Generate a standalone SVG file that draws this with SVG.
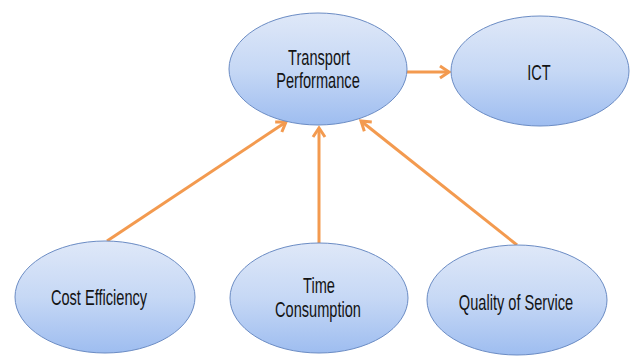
<svg xmlns="http://www.w3.org/2000/svg" width="633" height="356" viewBox="0 0 633 356">
<defs>
<linearGradient id="g" x1="0" y1="0" x2="0" y2="1">
<stop offset="0" stop-color="#dfe8f8"/>
<stop offset="0.5" stop-color="#c6d8f5"/>
<stop offset="1" stop-color="#9ebdf0"/>
</linearGradient>
<marker id="ah" markerUnits="userSpaceOnUse" markerWidth="16" markerHeight="16" viewBox="0 0 16 16" refX="12" refY="8" orient="auto">
<path d="M3,2 L12,8 L3,14" fill="none" stroke="#f39a4f" stroke-width="3" stroke-linejoin="miter"/>
</marker>
<style>
.n{fill:url(#g);stroke:#6b8cc4;stroke-width:1}
.t{font-family:"Liberation Sans",Arial,sans-serif;font-size:14.6px;fill:#141414;text-anchor:middle}
.c{stroke:#f39a4f;stroke-width:3;fill:none;marker-end:url(#ah)}
</style>
</defs>
<rect width="633" height="356" fill="#ffffff"/>
<g id="connectors">
<line class="c" x1="107" y1="241" x2="286" y2="122"/>
<line class="c" x1="319" y1="243" x2="319" y2="128"/>
<line class="c" x1="517" y1="245" x2="361" y2="121"/>
<line class="c" x1="407" y1="72" x2="449" y2="72"/>
</g>
<g id="transport">
<ellipse class="n" cx="318" cy="69" rx="89" ry="56"/>
<text class="t" transform="translate(319,65) scale(1,1.45)">Transport</text>
<text class="t" transform="translate(318,88) scale(1,1.45)">Performance</text>
</g>
<g id="ict">
<ellipse class="n" cx="540" cy="71" rx="89" ry="55"/>
<text class="t" transform="translate(539,80) scale(1,1.45)">ICT</text>
</g>
<g id="cost">
<ellipse class="n" cx="105" cy="297" rx="90" ry="56"/>
<text class="t" transform="translate(99,305) scale(1,1.45)">Cost Efficiency</text>
</g>
<g id="time">
<ellipse class="n" cx="319" cy="298" rx="89" ry="55"/>
<text class="t" transform="translate(319,293) scale(1,1.45)">Time</text>
<text class="t" transform="translate(318,317) scale(1,1.45)">Consumption</text>
</g>
<g id="quality">
<ellipse class="n" cx="517" cy="300" rx="90" ry="55"/>
<text class="t" transform="translate(516,310) scale(1,1.45)">Quality of Service</text>
</g>
</svg>
